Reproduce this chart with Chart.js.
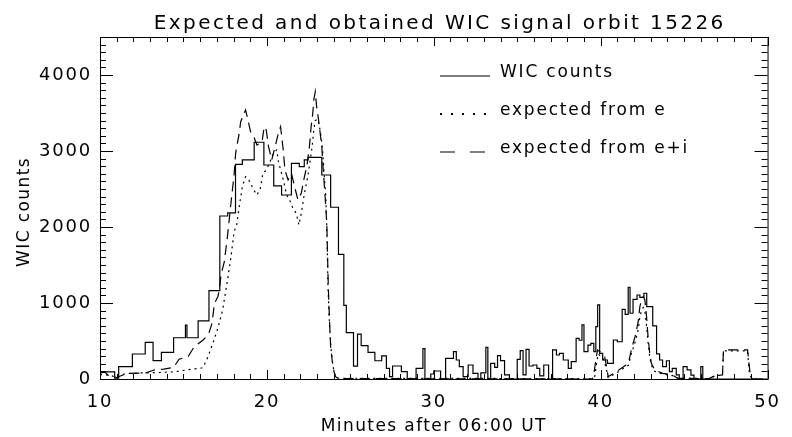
<!DOCTYPE html>
<html>
<head>
<meta charset="utf-8">
<script src="https://cdn.jsdelivr.net/npm/chart.js@4.4.1/dist/chart.umd.min.js"></script>
<style>
  html, body { margin: 0; padding: 0; background: #fff; }
</style>
</head>
<body>
<canvas id="wicChart" width="792" height="437"></canvas>
<script>
// Comptes WIC (histogramme) : début de chaque pas en minutes après 06:00 UT
const wicTemps = [10.00, 10.88, 11.12, 11.94, 12.71, 13.18, 13.68, 14.41, 15.12, 15.21, 15.88, 16.53,
  17.18, 17.65, 18.12, 18.53, 19.24, 19.82, 20.41, 20.88, 21.47, 21.94, 22.24, 22.47, 23.29, 23.82,
  24.29, 24.61, 24.76, 25.19, 25.43, 25.65, 26.06, 26.47, 26.88, 27.16, 27.35, 27.53, 28.06, 28.41,
  28.94, 29.35, 29.47, 29.82, 30.00, 30.41, 30.71, 31.18, 31.35, 31.53, 31.76, 32.06, 32.35, 32.65,
  32.82, 33.12, 33.24, 33.41, 33.65, 33.82, 34.00, 34.24, 34.53, 35.00, 35.18, 35.35, 35.53, 35.71,
  35.94, 36.18, 36.35, 36.59, 36.88, 37.12, 37.35, 37.53, 37.76, 38.06, 38.24, 38.53, 38.71, 38.88,
  39.00, 39.24, 39.41, 39.59, 39.71, 39.82, 39.94, 40.12, 40.41, 40.76, 41.00, 41.29, 41.47, 41.65,
  41.76, 41.94, 42.18, 42.35, 42.59, 42.76, 43.12, 43.35, 43.53, 43.71, 43.94, 44.12, 44.29, 44.53,
  44.71, 44.94, 45.18, 45.41, 45.59, 46.00, 46.12, 50.00];
const wicComptes = [95, 10, 162, 329, 483, 243, 351, 543, 710, 543, 766, 1162,
  2145, 2185, 2825, 2882, 3115, 2816, 2540, 2421, 2838, 2794, 2882, 2917, 2684, 2260,
  1640, 970, 610, 170, 590, 440, 350, 240, 305, 140, 30, 171, 96, 0,
  140, 400, 0, 66, 105, 0, 272, 360, 250, 162, 30, 184, 75, 0,
  80, 417, 0, 206, 154, 307, 241, 53, 0, 259, 373, 53, 390, 171,
  184, 140, 40, 184, 0, 382, 316, 338, 250, 140, 228, 535, 510, 711,
  360, 447, 470, 360, 690, 975, 338, 250, 206, 513, 490, 917, 850, 1207,
  865, 1049, 1105, 1075, 1128, 952, 700, 330, 250, 162, 240, 96, 140, 53,
  0, 162, 120, 50, 0, 162, 0, 0];

// Signal attendu à partir des électrons (pointillés)
const eTemps = [10.0, 10.6, 11.0, 11.5, 12.5, 13.5, 14.5, 15.5, 16.0, 16.18, 16.47, 16.76, 17.06,
  17.35, 17.61, 17.81, 18.04, 18.19, 18.34, 18.53, 18.72, 18.86, 19.02, 19.21, 19.41, 19.61, 19.76,
  19.96, 20.15, 20.39, 20.59, 20.69, 20.88, 21.01, 21.18, 21.36, 21.56, 21.76, 21.92, 22.06, 22.25,
  22.45, 22.54, 22.71, 22.80, 22.89, 23.04, 23.13, 23.24, 23.34, 23.43, 23.53, 23.60, 23.66, 23.74,
  23.83, 23.93, 24.02, 24.12, 24.30, 39.55, 39.65, 39.75, 39.85, 40.00, 40.20, 40.35, 40.45, 41.10,
  41.37, 41.66, 41.86, 42.06, 42.25, 42.35, 42.45, 42.55, 42.65, 42.75, 42.84, 42.94, 43.04, 43.24,
  43.72, 44.31, 44.61, 46.50, 46.90, 47.30, 47.36, 48.80, 48.90, 49.00, 49.10, 50.00];
const eValeurs = [60, 50, 20, 70, 80, 85, 95, 130, 140, 150, 293, 470, 667,
  908, 1260, 1545, 1940, 2026, 2268, 2531, 2663, 2641, 2575, 2487, 2421, 2509, 2707,
  2750, 2838, 2970, 3014, 2860, 2707, 2597, 2421, 2356, 2246, 2180, 2026, 2180, 2444,
  2663, 2794, 3057, 3250, 3400, 3420, 3350, 3200, 3000, 2700, 2400, 1900, 1215, 776,
  425, 228, 96, 30, 10, 5, 40, 200, 330, 300, 250, 120, 20, 100,
  140, 180, 350, 480, 650, 820, 900, 940, 900, 700, 480, 290, 180, 100,
  65, 45, 10, 5, 45, 50, 370, 370, 100, 30, 0, 0];

// Signal attendu à partir des électrons et des ions (tirets)
const eiTemps = [10.0, 10.29, 10.59, 11.0, 11.47, 11.76, 12.76, 13.24, 13.82, 14.41, 14.74, 15.19,
  15.29, 15.65, 16.18, 16.51, 16.71, 16.86, 17.06, 17.15, 17.25, 17.45, 17.65, 17.84, 18.04, 18.13,
  18.34, 18.43, 18.72, 18.82, 19.02, 19.21, 19.41, 19.71, 19.84, 19.96, 20.10, 20.29, 20.49, 20.69,
  20.82, 20.98, 21.08, 21.27, 21.37, 21.47, 21.66, 21.86, 22.06, 22.25, 22.39, 22.55, 22.65, 22.75,
  22.81, 22.90, 22.98, 23.07, 23.17, 23.29, 23.39, 23.49, 23.59, 23.68, 23.75, 23.82, 23.92, 24.02,
  24.12, 24.29, 39.50, 39.60, 39.71, 39.81, 39.96, 40.10, 40.24, 40.35, 40.45, 41.08, 41.37, 41.66,
  41.86, 42.06, 42.25, 42.35, 42.45, 42.55, 42.65, 42.75, 42.84, 42.94, 43.04, 43.24, 43.72, 44.31,
  44.61, 46.50, 46.90, 47.30, 47.36, 48.80, 48.94, 49.00, 49.10, 50.00];
const eiValeurs = [80, 90, 30, 20, 60, 75, 80, 118, 130, 154, 260, 290,
  300, 425, 513, 592, 733, 996, 1083, 1171, 1370, 1545, 1900, 2300, 2700, 2974,
  3233, 3386, 3540, 3452, 3255, 3189, 3079, 3123, 3320, 3277, 3057, 2882, 3057, 3233,
  3320, 3014, 2750, 2619, 2663, 2707, 2531, 2356, 2444, 2663, 2794, 3057, 3320, 3497,
  3672, 3781, 3584, 3452, 3277, 3057, 2707, 2399, 2049, 1215, 776, 425, 228, 96,
  30, 5, 0, 75, 250, 382, 360, 329, 293, 162, 30, 118, 162, 206,
  404, 557, 754, 952, 1040, 1083, 1040, 820, 557, 338, 206, 118, 75, 53,
  10, 5, 50, 53, 382, 382, 100, 30, 0, 0];

const xTicks = [10, 20, 30, 40, 50];
const yTicks = [0, 1000, 2000, 3000, 4000];
const titre = 'Expected and obtained WIC signal orbit 15226';
const titreX = 'Minutes after 06:00 UT';
const titreY = 'WIC counts';
const legendeLabels = ['WIC counts', 'expected from e', 'expected from e+i'];

const police = '"DejaVu Sans", sans-serif';

function versPoints(temps, valeurs) {
  return temps.map((t, i) => ({ x: t, y: valeurs[i] }));
}

// Cadre avec graduations vers l'intérieur, titres et légende
const cadrePlugin = {
  id: 'cadre',
  beforeDraw(chart) {
    chart.ctx.letterSpacing = '1.8px';
  },
  afterDraw(chart) {
    const ctx = chart.ctx;
    const a = chart.chartArea;
    const x = chart.scales.x;
    const y = chart.scales.y;
    ctx.save();
    ctx.strokeStyle = '#000';
    ctx.fillStyle = '#000';
    ctx.lineWidth = 1;
    ctx.setLineDash([]);
    ctx.strokeRect(a.left + 0.5, a.top + 0.5, a.right - a.left, a.bottom - a.top);

    ctx.beginPath();
    for (let v = x.min; v <= x.max; v += 1) {
      const px = Math.round(x.getPixelForValue(v)) + 0.5;
      const len = v % 10 === 0 ? 9 : 5;
      ctx.moveTo(px, a.bottom); ctx.lineTo(px, a.bottom - len);
      ctx.moveTo(px, a.top); ctx.lineTo(px, a.top + len);
    }
    for (let v = y.min; v <= y.max; v += 100) {
      const py = Math.round(y.getPixelForValue(v)) + 0.5;
      const len = v % 1000 === 0 ? 13 : 6;
      ctx.moveTo(a.left, py); ctx.lineTo(a.left + len, py);
      ctx.moveTo(a.right, py); ctx.lineTo(a.right - len, py);
    }
    ctx.stroke();

    // Titres
    ctx.textAlign = 'center';
    ctx.textBaseline = 'alphabetic';
    ctx.letterSpacing = '2.4px';
    ctx.font = '20px ' + police;
    ctx.fillText(titre, (a.left + a.right) / 2 + 6, 29);
    ctx.letterSpacing = '1.4px';
    ctx.font = '17px ' + police;
    ctx.fillText(titreX, (a.left + a.right) / 2, 431);
    ctx.save();
    ctx.translate(29, (a.top + a.bottom) / 2 + 4);
    ctx.rotate(-Math.PI / 2);
    ctx.fillText(titreY, 0, 0);
    ctx.restore();

    // Légende
    const lx = 440;
    const ly = [76, 114, 152];
    ctx.lineWidth = 1.2;
    ctx.beginPath();
    ctx.moveTo(lx, ly[0]); ctx.lineTo(lx + 50, ly[0]);
    ctx.stroke();
    for (let i = 0; i < 5; i++) {
      ctx.fillRect(lx + i * 11, ly[1] - 1, 2, 2);
    }
    ctx.beginPath();
    ctx.moveTo(lx, ly[2]); ctx.lineTo(lx + 15, ly[2]);
    ctx.moveTo(lx + 30, ly[2]); ctx.lineTo(lx + 45, ly[2]);
    ctx.stroke();
    ctx.textAlign = 'left';
    ctx.letterSpacing = '1.8px';
    ctx.font = '17px ' + police;
    legendeLabels.forEach((txt, i) => {
      ctx.fillText(txt, 500, ly[i] + 1);
    });
    ctx.restore();
  }
};

const ctx = document.getElementById('wicChart').getContext('2d');
new Chart(ctx, {
  type: 'line',
  data: {
    datasets: [
      {
        label: legendeLabels[0],
        data: versPoints(wicTemps, wicComptes),
        stepped: true,
        borderColor: '#000',
        borderWidth: 1.2,
        pointRadius: 0,
        fill: false
      },
      {
        label: legendeLabels[1],
        data: versPoints(eTemps, eValeurs),
        borderColor: '#000',
        borderWidth: 1.2,
        borderDash: [2, 4],
        pointRadius: 0,
        tension: 0,
        fill: false
      },
      {
        label: legendeLabels[2],
        data: versPoints(eiTemps, eiValeurs),
        borderColor: '#000',
        borderWidth: 1.2,
        borderDash: [10, 6],
        pointRadius: 0,
        tension: 0,
        fill: false
      }
    ]
  },
  options: {
    responsive: false,
    animation: false,
    layout: { padding: { top: 37, right: 12, left: 0, bottom: 0 } },
    plugins: {
      legend: { display: false },
      title: { display: false },
      tooltip: { enabled: false }
    },
    scales: {
      x: {
        type: 'linear',
        min: 10,
        max: 50,
        grid: { display: false, drawTicks: false },
        border: { display: false },
        afterFit: s => { s.height = 58; },
        afterBuildTicks: s => { s.ticks = xTicks.map(v => ({ value: v })); },
        ticks: {
          color: '#000',
          padding: 13,
          maxRotation: 0,
          autoSkip: false,
          font: { family: police, size: 18 },
          callback: v => String(v)
        }
      },
      y: {
        type: 'linear',
        min: 0,
        max: 4500,
        grid: { display: false, drawTicks: false },
        border: { display: false },
        afterFit: s => { s.width = 100; },
        afterBuildTicks: s => { s.ticks = yTicks.map(v => ({ value: v })); },
        ticks: {
          color: '#000',
          padding: 8,
          autoSkip: false,
          font: { family: police, size: 18 },
          callback: v => String(v)
        }
      }
    }
  },
  plugins: [cadrePlugin]
});
</script>
</body>
</html>
